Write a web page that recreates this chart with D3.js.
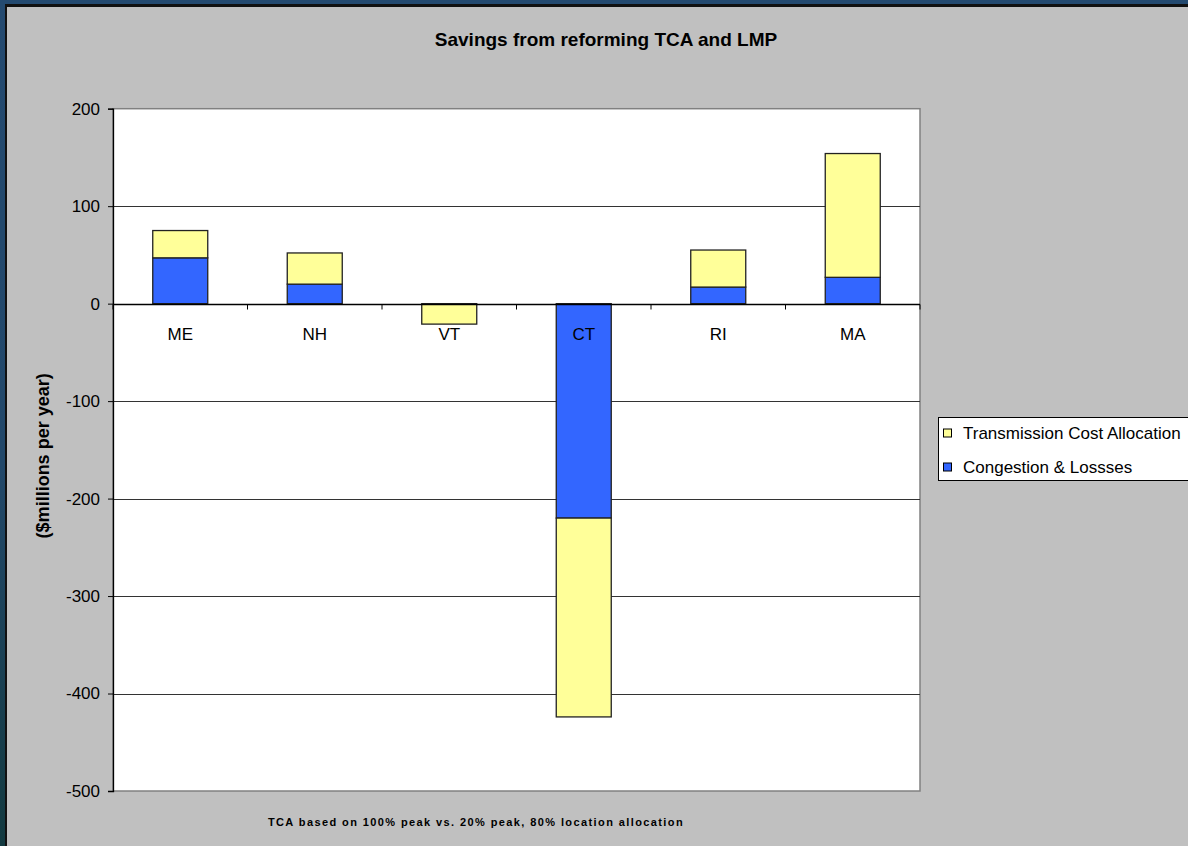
<!DOCTYPE html>
<html>
<head>
    <meta charset="utf-8">
    <script src="https://d3js.org/d3.v7.min.js"></script>
    <style>
        html, body { margin: 0; padding: 0; }
        svg { display: block; font-family: "Liberation Sans", Arial, sans-serif; }
    </style>
</head>
<body>
<svg></svg>
<script>
    const states = ["ME", "NH", "VT", "CT", "RI", "MA"];
    const congestion = [47, 20, 0, -220, 17, 27];
    const tca = [28, 32, -21, -204, 38, 127];
    const yTicks = [200, 100, 0, -100, -200, -300, -400, -500];
    const seriesNames = ["Transmission Cost Allocation", "Congestion & Lossses"];
    const seriesColors = ["#ffff99", "#3366ff"];

    const width = 1188, height = 846;
    const svg = d3.select("svg").attr("width", width).attr("height", height);

    // outer frame
    const grad = svg.append("defs").append("linearGradient")
        .attr("id", "frame").attr("x1", 0).attr("y1", 0).attr("x2", 0).attr("y2", 1);
    grad.append("stop").attr("offset", "0%").attr("stop-color", "#244a70");
    grad.append("stop").attr("offset", "55%").attr("stop-color", "#22486a");
    grad.append("stop").attr("offset", "100%").attr("stop-color", "#133a40");
    svg.append("rect").attr("width", width).attr("height", height).attr("fill", "url(#frame)");
    svg.append("rect").attr("x", 5).attr("y", 4).attr("width", width).attr("height", height)
        .attr("fill", "#111");
    svg.append("rect").attr("x", 7).attr("y", 7).attr("width", width).attr("height", height)
        .attr("fill", "#c0c0c0");

    const plot = { left: 113, top: 108.7, right: 920, bottom: 791 };

    const x = d3.scaleBand().domain(states).range([plot.left, plot.right]);
    const y = d3.scaleLinear().domain([-500, 200]).range([plot.bottom, plot.top]);

    svg.append("rect")
        .attr("x", plot.left).attr("y", plot.top)
        .attr("width", plot.right - plot.left).attr("height", plot.bottom - plot.top)
        .attr("fill", "#fff").attr("stroke", "#808080").attr("stroke-width", 1.5);

    // gridlines
    svg.append("g").selectAll("line")
        .data(yTicks.filter(d => d !== 200 && d !== -500 && d !== 0))
        .join("line")
        .attr("x1", plot.left).attr("x2", plot.right)
        .attr("y1", d => Math.round(y(d)) + 0.5).attr("y2", d => Math.round(y(d)) + 0.5)
        .attr("stroke", "#333").attr("stroke-width", 1);

    // stacked bars
    const rows = states.map((s, i) => ({ state: s, cong: congestion[i], tca: tca[i] }));
    const bw = 55;
    const bars = svg.append("g");
    rows.forEach(r => {
        const cx = x(r.state) + x.bandwidth() / 2;
        const c0 = 0, c1 = r.cong;
        const t0 = r.cong, t1 = r.cong + r.tca;
        if (r.cong !== 0) {
            bars.append("rect")
                .attr("x", cx - bw / 2).attr("width", bw)
                .attr("y", y(Math.max(c0, c1))).attr("height", Math.abs(y(c0) - y(c1)))
                .attr("fill", seriesColors[1]).attr("stroke", "#222").attr("stroke-width", 1.3);
        }
        bars.append("rect")
            .attr("x", cx - bw / 2).attr("width", bw)
            .attr("y", y(Math.max(t0, t1))).attr("height", Math.abs(y(t0) - y(t1)))
            .attr("fill", seriesColors[0]).attr("stroke", "#222").attr("stroke-width", 1.3);
    });

    // y axis
    const yAxis = svg.append("g")
        .attr("transform", `translate(${plot.left},0)`)
        .call(d3.axisLeft(y).tickValues(yTicks).tickSize(5).tickPadding(8).tickFormat(d => String(d)));
    yAxis.select(".domain").attr("stroke", "#000").attr("stroke-width", 1.3);
    yAxis.selectAll(".tick line").attr("stroke", "#000");
    yAxis.selectAll("text").attr("font-size", 17).attr("fill", "#000")
        .attr("font-family", "Liberation Sans, Arial, sans-serif");

    // category axis at zero
    const y0 = Math.round(y(0)) + 0.5;
    svg.append("line")
        .attr("x1", plot.left).attr("x2", plot.right)
        .attr("y1", y0).attr("y2", y0)
        .attr("stroke", "#000").attr("stroke-width", 1.3);
    svg.append("g").selectAll("line")
        .data(d3.range(states.length + 1))
        .join("line")
        .attr("x1", i => plot.left + i * x.step()).attr("x2", i => plot.left + i * x.step())
        .attr("y1", y0).attr("y2", y0 + 5)
        .attr("stroke", "#000");
    svg.append("g").selectAll("text")
        .data(states)
        .join("text")
        .attr("x", d => x(d) + x.bandwidth() / 2)
        .attr("y", y0 + 35)
        .attr("text-anchor", "middle")
        .attr("font-size", 17).attr("fill", "#000")
        .text(d => d);

    // title
    svg.append("text")
        .attr("x", 606).attr("y", 46)
        .attr("text-anchor", "middle")
        .attr("font-size", 19).attr("font-weight", "bold")
        .text("Savings from reforming TCA and LMP");

    // y label
    svg.append("text")
        .attr("transform", `translate(49,${(plot.top + plot.bottom) / 2 + 6}) rotate(-90)`)
        .attr("text-anchor", "middle")
        .attr("font-size", 18).attr("font-weight", "bold")
        .text("($millions per year)");

    // footnote
    svg.append("text")
        .attr("x", 476).attr("y", 826)
        .attr("text-anchor", "middle")
        .attr("font-size", 11).attr("font-weight", "bold")
        .attr("letter-spacing", "1.4px")
        .text("TCA based on 100% peak vs. 20% peak, 80% location allocation");

    // legend
    const lg = svg.append("g").attr("transform", "translate(938,417)");
    lg.append("rect").attr("x", 0.5).attr("y", 0.5).attr("width", 300).attr("height", 63)
        .attr("fill", "#fff").attr("stroke", "#000");
    seriesNames.forEach((name, i) => {
        const yy = 16 + i * 34;
        lg.append("rect").attr("x", 5.5).attr("y", yy - 4).attr("width", 8).attr("height", 8)
            .attr("fill", seriesColors[i]).attr("stroke", "#000");
        lg.append("text").attr("x", 25).attr("y", yy + 6)
            .attr("font-size", 17).text(name);
    });
</script>
</body>
</html>
